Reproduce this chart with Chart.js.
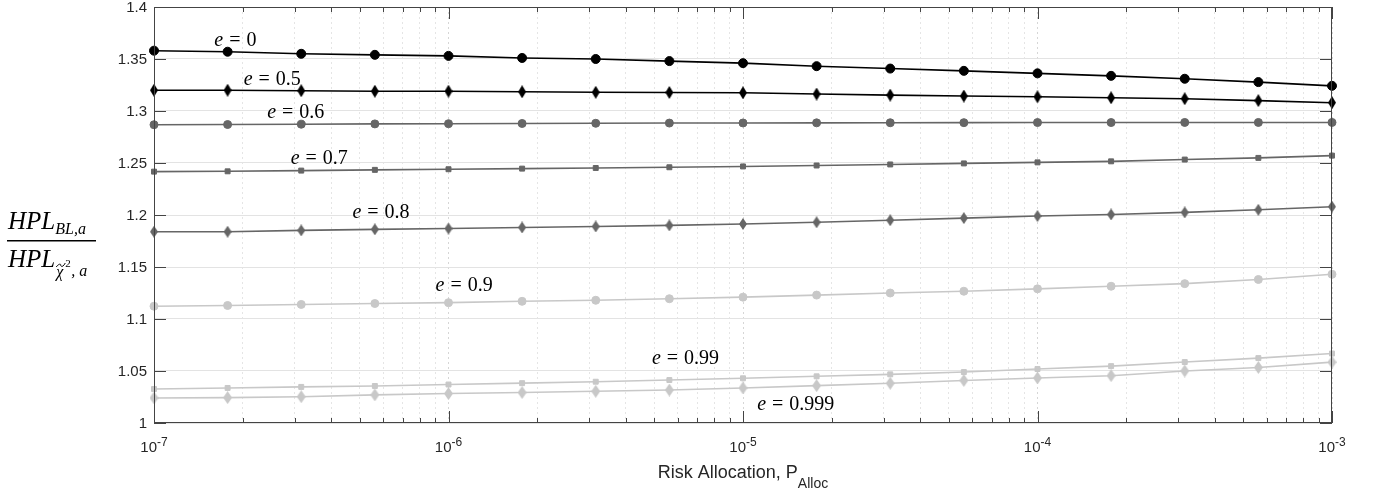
<!DOCTYPE html>
<html>
<head>
<meta charset="utf-8">
<script src="https://cdn.jsdelivr.net/npm/chart.js@4.4.0/dist/chart.umd.min.js"></script>
<style>body{margin:0;background:#fff}</style>
</head>
<body>
<canvas id="ratioChart" width="1375" height="494"></canvas>
<script>
// risk allocation values (x) and HPL ratio per eccentricity e
var pAlloc = [1e-7, 1.778e-7, 3.162e-7, 5.623e-7, 1e-6, 1.778e-6, 3.162e-6, 5.623e-6, 1e-5,
              1.778e-5, 3.162e-5, 5.623e-5, 1e-4, 1.778e-4, 3.162e-4, 5.623e-4, 1e-3];
var ratioE0    = [1.358, 1.357, 1.355, 1.354, 1.353, 1.351, 1.350, 1.348, 1.346, 1.3431, 1.3408, 1.3386, 1.3362, 1.3338, 1.331, 1.3278, 1.3242];
var ratioE05   = [1.320, 1.320, 1.3195, 1.319, 1.319, 1.3185, 1.318, 1.3178, 1.3175, 1.3163, 1.3153, 1.3144, 1.3137, 1.3127, 1.3118, 1.310, 1.308];
var ratioE06   = [1.2868, 1.287, 1.2873, 1.2876, 1.2878, 1.288, 1.2882, 1.2884, 1.2885, 1.2886, 1.2887, 1.2888, 1.2889, 1.2889, 1.289, 1.289, 1.289];
var ratioE07   = [1.2417, 1.242, 1.2427, 1.2434, 1.244, 1.2446, 1.2452, 1.2459, 1.2467, 1.2476, 1.2486, 1.2496, 1.2506, 1.2516, 1.2533, 1.2549, 1.2571];
var ratioE08   = [1.1839, 1.1839, 1.1852, 1.1862, 1.187, 1.188, 1.189, 1.190, 1.1914, 1.193, 1.195, 1.197, 1.199, 1.2005, 1.2025, 1.205, 1.208];
var ratioE09   = [1.1123, 1.113, 1.114, 1.1149, 1.1157, 1.117, 1.118, 1.1195, 1.121, 1.123, 1.125, 1.1267, 1.129, 1.1315, 1.134, 1.138, 1.143];
var ratioE099  = [1.0327, 1.0337, 1.0347, 1.0356, 1.037, 1.0383, 1.0397, 1.0413, 1.043, 1.0449, 1.0468, 1.049, 1.0519, 1.0547, 1.0586, 1.0624, 1.0668];
var ratioE0999 = [1.0241, 1.0244, 1.0253, 1.027, 1.0283, 1.0293, 1.0305, 1.0317, 1.0337, 1.0359, 1.0382, 1.0409, 1.0433, 1.0455, 1.050, 1.0534, 1.0585];

var yTicks = [1, 1.05, 1.1, 1.15, 1.2, 1.25, 1.3, 1.35, 1.4];
var yTickLabels = ['1', '1.05', '1.1', '1.15', '1.2', '1.25', '1.3', '1.35', '1.4'];
var xDecades = [1e-7, 1e-6, 1e-5, 1e-4, 1e-3];
var xExponents = ['-7', '-6', '-5', '-4', '-3'];
var eValues = ['0', '0.5', '0.6', '0.7', '0.8', '0.9', '0.99', '0.999'];
// where each e = ... label sits, in data coordinates [P_Alloc, ratio]
var eLabelAt = [[1.89e-7, 1.3674], [2.52e-7, 1.330], [3.03e-7, 1.2979], [3.64e-7, 1.2538],
                [5.9e-7, 1.2020], [1.13e-6, 1.1315], [6.38e-6, 1.062], [1.51e-5, 1.0178]];

var BLACK = '#000000', DARK = '#666666', LIGHT = '#c8c8c8';
var SANS = '"Liberation Sans", Arial, sans-serif';
var SERIF = '"Liberation Serif", "Times New Roman", serif';

// minor + major ticks of the log axis: 1..9 x 10^k
var xTickValues = [];
for (var k = -7; k < -3; k++) {
    for (var m = 1; m <= 9; m++) xTickValues.push(m * Math.pow(10, k));
}
xTickValues.push(1e-3);

function diamond(color, w, h) {
    var c = document.createElement('canvas');
    c.width = w; c.height = h;
    var g = c.getContext('2d');
    g.fillStyle = color;
    g.beginPath();
    g.moveTo(w / 2, 0); g.lineTo(w, h / 2); g.lineTo(w / 2, h); g.lineTo(0, h / 2);
    g.closePath(); g.fill();
    return c;
}

function series(label, values, color, style, radius) {
    return {
        label: label,
        data: pAlloc.map(function (x, i) { return { x: x, y: values[i] }; }),
        borderColor: color,
        backgroundColor: color,
        borderWidth: 1.6,
        pointStyle: style,
        pointRadius: radius,
        pointBorderWidth: 1,
        pointBorderColor: color,
        pointBackgroundColor: color,
        clip: false
    };
}

function isDecade(v) {
    var l = Math.log10(v);
    return Math.abs(l - Math.round(l)) < 1e-9;
}

var matlabAxes = {
    id: 'matlabAxes',
    afterDraw: function (chart) {
        var ctx = chart.ctx, a = chart.chartArea;
        var xs = chart.scales.x, ys = chart.scales.y;
        ctx.save();

        // box
        ctx.strokeStyle = '#444';
        ctx.lineWidth = 1;
        ctx.strokeRect(Math.round(a.left) + 0.5, Math.round(a.top) + 0.5,
                       Math.round(a.right - a.left) - 1, Math.round(a.bottom - a.top) - 1);

        // inward ticks
        ctx.beginPath();
        yTicks.forEach(function (v) {
            var y = Math.round(ys.getPixelForValue(v)) + 0.5;
            ctx.moveTo(a.left, y); ctx.lineTo(a.left + 12, y);
            ctx.moveTo(a.right, y); ctx.lineTo(a.right - 12, y);
        });
        xTickValues.forEach(function (v) {
            var x = Math.round(xs.getPixelForValue(v)) + 0.5;
            var len = isDecade(v) ? 12 : 5;
            ctx.moveTo(x, a.bottom); ctx.lineTo(x, a.bottom - len);
            ctx.moveTo(x, a.top); ctx.lineTo(x, a.top + len);
        });
        ctx.stroke();

        // y tick labels
        ctx.fillStyle = '#262626';
        ctx.font = '15px ' + SANS;
        ctx.textAlign = 'right';
        ctx.textBaseline = 'middle';
        yTicks.forEach(function (v, i) {
            ctx.fillText(yTickLabels[i], a.left - 7, ys.getPixelForValue(v) + 1);
        });

        // x tick labels 10^k
        ctx.textAlign = 'left';
        ctx.textBaseline = 'alphabetic';
        xDecades.forEach(function (v, i) {
            var x = xs.getPixelForValue(v);
            ctx.font = '15px ' + SANS;
            var wb = ctx.measureText('10').width;
            ctx.font = '12px ' + SANS;
            var we = ctx.measureText(xExponents[i]).width;
            var x0 = x - (wb + we) / 2;
            ctx.font = '15px ' + SANS;
            ctx.fillText('10', x0, 452);
            ctx.font = '12px ' + SANS;
            ctx.fillText(xExponents[i], x0 + wb, 446);
        });

        // x title
        ctx.font = '18px ' + SANS;
        var t1 = 'Risk Allocation, P';
        var w1 = ctx.measureText(t1).width;
        ctx.font = '14px ' + SANS;
        var w2 = ctx.measureText('Alloc').width;
        var tx = (a.left + a.right) / 2 - (w1 + w2) / 2;
        ctx.font = '18px ' + SANS;
        ctx.fillText(t1, tx, 478);
        ctx.font = '14px ' + SANS;
        ctx.fillText('Alloc', tx + w1, 488);

        // y title as a fraction
        ctx.fillStyle = '#000';
        ctx.font = 'italic 25px ' + SERIF;
        ctx.fillText('HPL', 8, 229);
        var wh = ctx.measureText('HPL').width;
        ctx.font = 'italic 16px ' + SERIF;
        ctx.fillText('BL,a', 8 + wh, 234);
        ctx.fillRect(7, 240, 89, 1.5);
        ctx.font = 'italic 25px ' + SERIF;
        ctx.fillText('HPL', 8, 267);
        var sx = 8 + wh + 1;
        ctx.font = 'italic 16px ' + SERIF;
        ctx.fillText('\u03c7', sx, 277);
        var wc = ctx.measureText('\u03c7').width;
        // wide tilde over chi
        ctx.strokeStyle = '#000';
        ctx.lineWidth = 1;
        ctx.beginPath();
        ctx.moveTo(sx, 267);
        ctx.bezierCurveTo(sx + 3, 263, sx + 5, 264, sx + wc / 2 + 1, 265.5);
        ctx.bezierCurveTo(sx + wc - 2, 267, sx + wc, 267, sx + wc + 2, 263);
        ctx.stroke();
        ctx.font = '11px ' + SERIF;
        ctx.fillText('2', sx + wc + 2, 267);
        ctx.font = 'italic 16px ' + SERIF;
        ctx.fillText(', a', sx + wc + 8, 276);

        // e = ... labels, with TeX-like spacing round '='
        ctx.textBaseline = 'middle';
        var gap = 6;
        eValues.forEach(function (val, i) {
            var cx = xs.getPixelForValue(eLabelAt[i][0]);
            var cy = ys.getPixelForValue(eLabelAt[i][1]);
            ctx.font = 'italic 20px ' + SERIF;
            var we = ctx.measureText('e').width;
            ctx.font = '20px ' + SERIF;
            var wq = ctx.measureText('=').width;
            var wv = ctx.measureText(val).width;
            var x0 = cx - (we + wq + wv + 2 * gap) / 2;
            ctx.font = 'italic 20px ' + SERIF;
            ctx.fillText('e', x0, cy);
            ctx.font = '20px ' + SERIF;
            ctx.fillText('=', x0 + we + gap, cy);
            ctx.fillText(val, x0 + we + gap + wq + gap, cy);
        });
        ctx.restore();
    }
};

var ratioChart = new Chart(document.getElementById('ratioChart').getContext('2d'), {
    type: 'line',
    data: {
        datasets: [
            series('e = 0', ratioE0, BLACK, 'circle', 4.5),
            series('e = 0.5', ratioE05, BLACK, diamond(BLACK, 8, 13), 5),
            series('e = 0.6', ratioE06, DARK, 'circle', 4),
            series('e = 0.7', ratioE07, DARK, 'rect', 3.5),
            series('e = 0.8', ratioE08, DARK, diamond(DARK, 8, 12), 5),
            series('e = 0.9', ratioE09, LIGHT, 'circle', 4),
            series('e = 0.99', ratioE099, LIGHT, 'rect', 3.5),
            series('e = 0.999', ratioE0999, LIGHT, diamond(LIGHT, 9, 13), 5)
        ]
    },
    options: {
        responsive: false,
        animation: false,
        devicePixelRatio: 1,
        layout: { padding: { left: 0, right: 43, top: 7, bottom: 0 } },
        plugins: { legend: { display: false }, tooltip: { enabled: false } },
        scales: {
            x: {
                type: 'logarithmic',
                min: 1e-7,
                max: 1e-3,
                afterBuildTicks: function (scale) {
                    scale.ticks = xTickValues.map(function (v) { return { value: v }; });
                },
                afterFit: function (scale) { scale.height = 71; },
                ticks: { display: false },
                grid: {
                    drawTicks: false,
                    lineWidth: 1,
                    color: function (c) {
                        return c.tick && isDecade(c.tick.value) ? 'rgba(0,0,0,0.16)' : 'rgba(0,0,0,0.1)';
                    }
                },
                border: { display: false, dash: [2, 3] }
            },
            y: {
                type: 'linear',
                min: 1,
                max: 1.4,
                afterBuildTicks: function (scale) {
                    scale.ticks = yTicks.map(function (v) { return { value: v }; });
                },
                afterFit: function (scale) { scale.width = 154; },
                ticks: { display: false },
                grid: { drawTicks: false, color: '#e3e3e3', lineWidth: 1 },
                border: { display: false }
            }
        }
    },
    plugins: [matlabAxes]
});
</script>
</body>
</html>
